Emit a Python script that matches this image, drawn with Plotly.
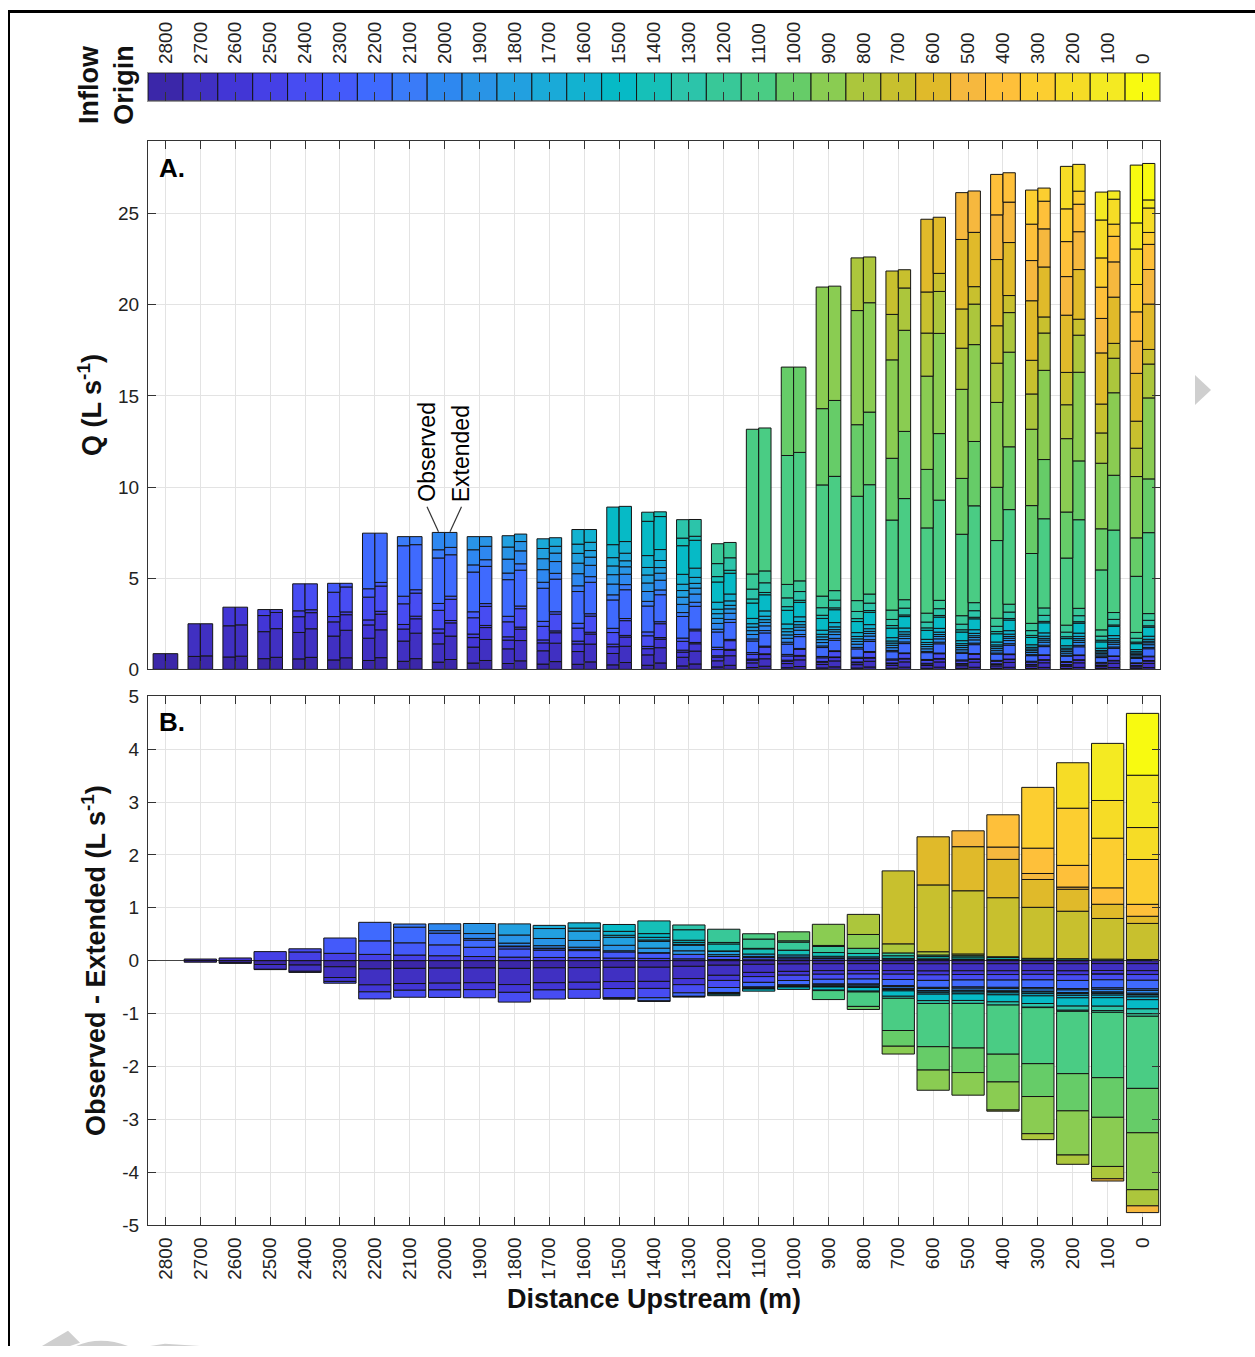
import numpy as np
import plotly.graph_objects as go

# ---------------- data ----------------
locations = [2800, 2700, 2600, 2500, 2400, 2300, 2200, 2100, 2000, 1900, 1800, 1700, 1600, 1500,
             1400, 1300, 1200, 1100, 1000, 900, 800, 700, 600, 500, 400, 300, 200, 100, 0]
location_labels = [str(v) for v in locations]

# total discharge at each location (L/s)
q_observed = [0.86, 2.50, 3.41, 3.28, 4.69, 4.72, 7.47, 7.28, 7.51, 7.28, 7.33, 7.16, 7.67, 8.90,
              8.62, 8.21, 6.89, 13.17, 16.58, 20.97, 22.57, 21.85, 24.69, 26.15, 27.15, 26.29, 27.59, 26.18, 27.66]
q_extended = [0.86, 2.50, 3.41, 3.28, 4.69, 4.72, 7.47, 7.28, 7.51, 7.28, 7.42, 7.22, 7.67, 8.94,
              8.64, 8.22, 6.96, 13.24, 16.58, 21.02, 22.62, 21.92, 24.80, 26.24, 27.24, 26.40, 27.70, 26.24, 27.75]
# new inflow entering at each location (top segment of each bar, L/s)
gain_observed = [0.86, 1.79, 1.02, 0.33, 1.48, 0.49, 3.05, 0.50, 0.95, 0.72, 0.62, 0.53, 0.80, 2.06,
                 0.50, 1.01, 1.09, 7.94, 4.85, 6.67, 2.89, 2.38, 3.99, 2.57, 2.22, 1.87, 2.33, 1.53, 3.17]
gain_extended = [0.86, 1.76, 0.97, 0.16, 1.42, 0.20, 2.70, 0.44, 0.82, 0.53, 0.41, 0.47, 0.70, 1.93,
                 0.26, 0.92, 0.84, 7.84, 4.68, 6.27, 2.51, 1.00, 3.08, 2.27, 1.61, 0.72, 1.47, 0.45, 2.00]

yA_ticks = [0, 5, 10, 15, 20, 25]
yA_labels = ["0", "5", "10", "15", "20", "25"]
yB_ticks = [-5, -4, -3, -2, -1, 0, 1, 2, 3, 4, 5]
yB_labels = ["-5", "-4", "-3", "-2", "-1", "0", "1", "2", "3", "4", "5"]

# parula-like colours, one per inflow origin
origin_colors = ["#3b27a9", "#4030c2", "#4236d6", "#4540e6", "#474cf2", "#445afa", "#3f6afe",
                 "#3a7bf8", "#2e88f0", "#2994e6", "#22a0e0", "#1aaad8", "#12b2d0", "#06bac6",
                 "#16c0b8", "#2cc4aa", "#38c898", "#4acc84", "#66cc68", "#8acc52", "#acc63c",
                 "#c8c02e", "#e0ba2a", "#f6b83e", "#fec03a", "#fcce30", "#f6dc26", "#f4ea22", "#f8fa10"]


def decompose(q, gain):
    """Split each location's discharge by inflow origin (proportional losses)."""
    n = len(q)
    comp = np.zeros((n, n))
    for j in range(n):
        if j > 0:
            comp[j, :j] = comp[j - 1, :j] * (q[j] - gain[j]) / q[j - 1]
        comp[j, j] = gain[j]
    return comp


n = len(locations)
obs = decompose(q_observed, gain_observed)
ext = decompose(q_extended, gain_extended)
diff = obs - ext

# ---------------- geometry helpers ----------------
W, H = 1255, 1357
def px(x):
    return x / W
def py(y):
    yy = (y - 9.0) / 0.987
    yy = min(max(yy, 1.5), H)
    return 1 - yy / H

xdom = [px(148), px(1160)]
domA = [py(670), py(140)]
domB = [py(1227), py(697)]
domC = [py(100), py(72)]

FONT = "Liberation Sans, Arial, Helvetica, sans-serif"
EDGE = "#141414"

fig = go.Figure()

half = 0.177
wA = 0.353
for k in range(n):
    xs = np.arange(k, n)
    fig.add_trace(go.Bar(x=xs - half, y=obs[k:, k], width=wA, xaxis="x", yaxis="y",
                         marker=dict(color=origin_colors[k], line=dict(color=EDGE, width=1)),
                         name=location_labels[k] + " observed", hoverinfo="skip"))
    fig.add_trace(go.Bar(x=xs + half, y=ext[k:, k], width=wA, xaxis="x", yaxis="y",
                         marker=dict(color=origin_colors[k], line=dict(color=EDGE, width=1)),
                         name=location_labels[k] + " extended", hoverinfo="skip"))

for k in range(n):
    d = diff[k:, k]
    yv = [float(v) if abs(v) > 1e-6 else None for v in d]
    fig.add_trace(go.Bar(x=list(range(k, n)), y=yv, width=0.925, xaxis="x2", yaxis="y2",
                         marker=dict(color=origin_colors[k], line=dict(color=EDGE, width=1)),
                         name=location_labels[k] + " difference", hoverinfo="skip"))

# colour bar of inflow origins
fig.add_trace(go.Bar(x=list(range(n)), y=[1] * n, width=1.0, xaxis="x3", yaxis="y3",
                     marker=dict(color=origin_colors, line=dict(color=EDGE, width=1)),
                     name="Inflow origin", hoverinfo="skip"))

tickfont = dict(family=FONT, size=19, color="#222")
axis_common = dict(ticks="inside", ticklen=8, tickcolor="#333", tickwidth=1,
                   showline=True, linecolor="#333", linewidth=1, mirror="ticks",
                   showgrid=True, gridcolor="#e3e3e3", gridwidth=1, zeroline=False,
                   tickfont=tickfont)

fig.update_layout(
    width=W, height=H, margin=dict(l=0, r=0, t=0, b=0),
    paper_bgcolor="white", plot_bgcolor="white", showlegend=False,
    barmode="relative", font=dict(family=FONT, color="#111"),
    xaxis=dict(domain=xdom, anchor="y", range=[-0.5, n - 0.5], tickvals=list(range(n)),
               showticklabels=False, **axis_common),
    yaxis=dict(domain=domA, anchor="x", range=[0, 29], tickvals=yA_ticks, ticktext=yA_labels,
               ticklabelstandoff=4,
               title=dict(text="<b>Q (L s<sup>-1</sup>)</b>", font=dict(family=FONT, size=27, color="#111"),
                          standoff=8),
               **axis_common),
    xaxis2=dict(domain=xdom, anchor="y2", range=[-0.5, n - 0.5], tickvals=list(range(n)),
                ticktext=location_labels, tickangle=-90, ticklabelstandoff=4,
                title=dict(text="<b>Distance Upstream (m)</b>", font=dict(family=FONT, size=27, color="#111"),
                           standoff=10),
                **axis_common),
    yaxis2=dict(domain=domB, anchor="x2", range=[-5, 5], tickvals=yB_ticks, ticktext=yB_labels,
                ticklabelstandoff=4,
                title=dict(text="<b>Observed - Extended (L s<sup>-1</sup>)</b>",
                           font=dict(family=FONT, size=27, color="#111"), standoff=8),
                **axis_common),
    xaxis3=dict(domain=xdom, anchor="y3", side="top", range=[-0.5, n - 0.5], tickvals=list(range(n)),
                ticktext=location_labels, tickangle=-90, ticks="inside", ticklen=9, tickcolor="#333",
                showline=True, linecolor="#999", linewidth=1, mirror="ticks", showgrid=False,
                zeroline=False, tickfont=tickfont, ticklabelstandoff=4),
    yaxis3=dict(domain=domC, anchor="x3", range=[0, 1], showticklabels=False, ticks="",
                showline=True, linecolor="#999", linewidth=1, mirror=True, showgrid=False, zeroline=False),
)

fig.update_yaxes(selector=dict(anchor="x2"), zeroline=True, zerolinecolor="#444", zerolinewidth=1)

annotations = [
    dict(text="<b>Inflow<br>Origin</b>", x=px(107), y=py(84), xref="paper", yref="paper",
         showarrow=False, textangle=-90, font=dict(family=FONT, size=27, color="#111"),
         xanchor="center", yanchor="middle"),
    dict(text="<b>A.</b>", x=px(157), y=py(167), xref="paper", yref="paper", showarrow=False,
         font=dict(family=FONT, size=26, color="#000"), xanchor="left", yanchor="middle"),
    dict(text="<b>B.</b>", x=px(157), y=py(723), xref="paper", yref="paper", showarrow=False,
         font=dict(family=FONT, size=26, color="#000"), xanchor="left", yanchor="middle"),
    dict(text="Observed", x=px(427), y=py(504), xref="paper", yref="paper", showarrow=False,
         textangle=-90, font=dict(family=FONT, size=23, color="#000"), xanchor="center", yanchor="bottom"),
    dict(text="Extended", x=px(461), y=py(504), xref="paper", yref="paper", showarrow=False,
         textangle=-90, font=dict(family=FONT, size=23, color="#000"), xanchor="center", yanchor="bottom"),
]
fig.update_layout(annotations=annotations)

shapes = [
    dict(type="line", xref="paper", yref="paper", x0=px(427), y0=py(507), x1=px(438.5), y1=py(532),
         line=dict(color="#333", width=1.2)),
    dict(type="line", xref="paper", yref="paper", x0=px(461.5), y0=py(507), x1=px(450), y1=py(532),
         line=dict(color="#333", width=1.2)),
    # page frame
    dict(type="line", xref="paper", yref="paper", x0=px(8), y0=py(5), x1=px(1255), y1=py(5),
         line=dict(color="#000", width=3)),
    dict(type="line", xref="paper", yref="paper", x0=px(9), y0=py(5), x1=px(9), y1=py(1357),
         line=dict(color="#000", width=2)),
    # grey page-navigation marks
    dict(type="path", xref="paper", yref="paper", fillcolor="#cfcfcf", line=dict(width=0),
         path=f"M {px(1195)} {py(375)} L {px(1211)} {py(390)} L {px(1195)} {py(405)} Z"),
    dict(type="path", xref="paper", yref="paper", fillcolor="#cfcfcf", line=dict(width=0),
         path=f"M {px(42)} {py(1357)} L {px(68)} {py(1333)} L {px(80)} {py(1345)} L {px(70)} {py(1357)} Z"),
    dict(type="path", xref="paper", yref="paper", fillcolor="#cfcfcf", line=dict(width=0),
         path=f"M {px(76)} {py(1357)} Q {px(100)} {py(1338)} {px(128)} {py(1357)} Z"),
    dict(type="path", xref="paper", yref="paper", fillcolor="#cfcfcf", line=dict(width=0),
         path=f"M {px(150)} {py(1357)} L {px(165)} {py(1346)} L {px(200)} {py(1357)} Z"),
]
fig.update_layout(shapes=shapes)

fig.write_html(
    "out.html",
    config={"displayModeBar": False},
    post_script=("document.documentElement.style.margin='0';document.body.style.margin='0';"
                 "document.documentElement.style.overflow='hidden';document.body.style.overflow='hidden';"),
)
